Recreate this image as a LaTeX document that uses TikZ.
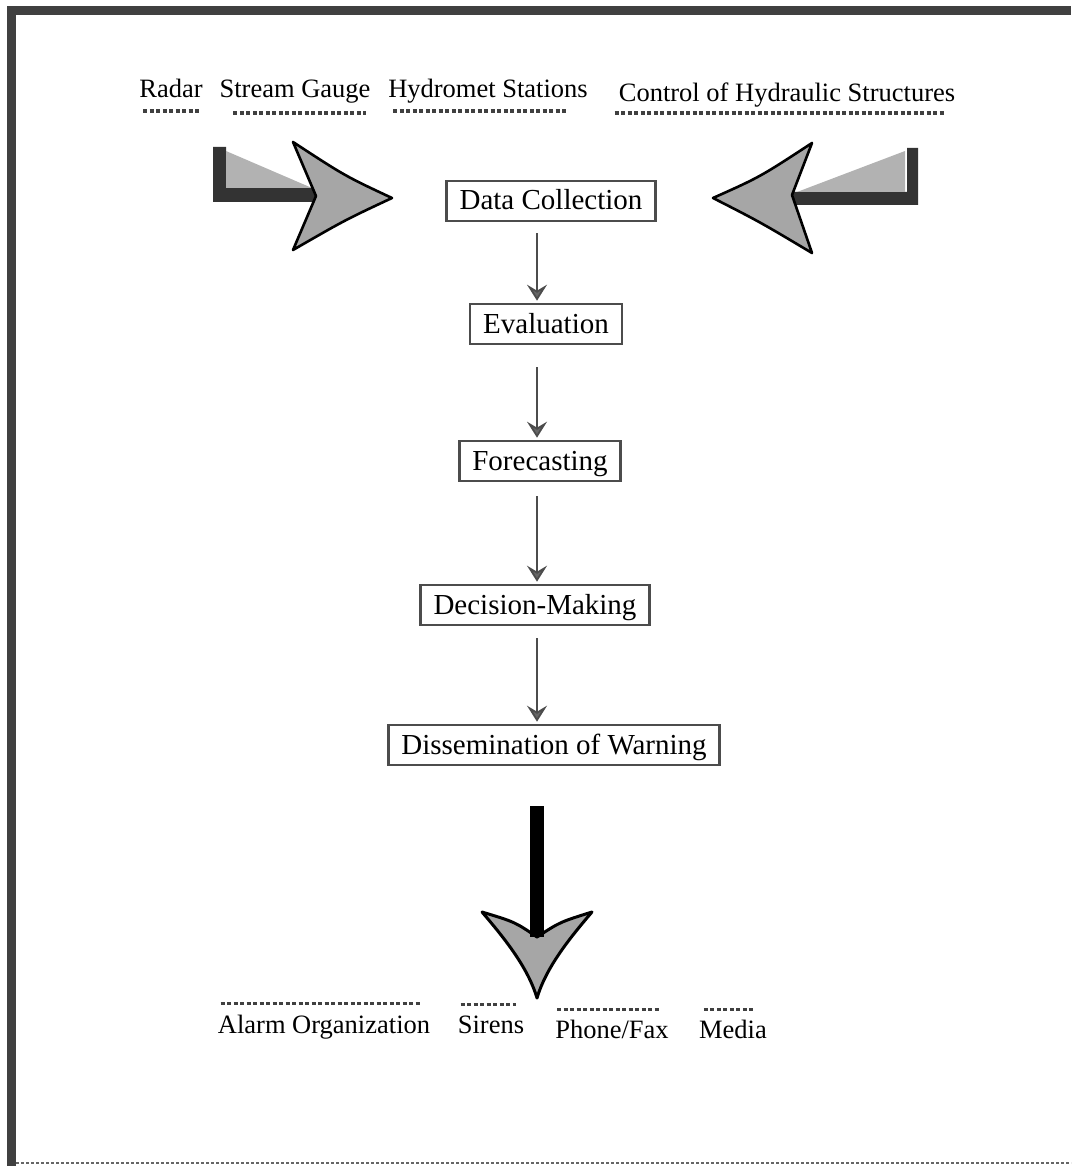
\documentclass[tikz,border=0pt]{standalone}
\usepackage{fontspec}
\setmainfont{Liberation Serif}
\usetikzlibrary{arrows.meta}

\tikzset{
  stage/.style={draw=black!70, line width=2.6pt, inner xsep=13pt, inner ysep=7pt,
    text height=22pt, text depth=4pt, font=\fontsize{29}{34}\selectfont},
  lbl/.style={inner sep=0pt, anchor=base, font=\fontsize{26.5}{30}\selectfont},
  uline/.style={draw=black!75, line width=3.2pt, dash pattern=on 4pt off 2.5pt},
  flow/.style={draw=black!70, line width=1.8pt,
    -{Stealth[length=16pt,width=20pt,inset=6pt,fill=black!60]}},
  headfill/.style={fill=black!35, draw=black, line width=2.6pt, line join=round},
  shaftdark/.style={fill=black!80},
  shaftlight/.style={fill=black!30},
}

\begin{document}
\begin{tikzpicture}[x=1pt, y=-1pt]
\useasboundingbox (0,0) rectangle (1071,1166);

% page frame
\draw[black!75, line width=9pt] (11.5,1166) -- (11.5,10.5) -- (1071,10.5);
\draw[black!60, line width=2.5pt, dash pattern=on 3pt off 2pt] (16,1163) -- (1071,1163);

% data sources
\node[lbl] (radar) at (171,98) {Radar};
\node[lbl] (gauge) at (295,98) {Stream Gauge};
\node[lbl] (hydro) at (488,98) {Hydromet Stations};
\node[lbl] (ctrl)  at (787,102) {Control of Hydraulic Structures};
\draw[uline] ([xshift=4pt,yshift=-13pt]radar.base west) -- ([xshift=-4pt,yshift=-13pt]radar.base east);
\draw[uline] ([xshift=14pt,yshift=-15pt]gauge.base west) -- ([xshift=-5pt,yshift=-15pt]gauge.base east);
\draw[uline] ([xshift=5pt,yshift=-13pt]hydro.base west) -- ([xshift=-20pt,yshift=-13pt]hydro.base east);
\draw[uline] ([xshift=-4pt,yshift=-11pt]ctrl.base west) -- ([xshift=-10pt,yshift=-11pt]ctrl.base east);

% process stages
\node[stage] (dc)  at (551,201) {Data Collection};
\node[stage] (ev)  at (546,324) {Evaluation};
\node[stage] (fc)  at (540,461) {Forecasting};
\node[stage] (dm)  at (535,605) {Decision-Making};
\node[stage] (dw)  at (554,745) {Dissemination of Warning};

\coordinate (ax) at (537,0);
\draw[flow, shorten <=11pt, shorten >=2pt] (dc.south -| ax) -- (ev.north -| ax);
\draw[flow, shorten <=22pt, shorten >=2pt] (ev.south -| ax) -- (fc.north -| ax);
\draw[flow, shorten <=14pt, shorten >=2pt] (fc.south -| ax) -- (dm.north -| ax);
\draw[flow, shorten <=12pt, shorten >=2pt] (dm.south -| ax) -- (dw.north -| ax);

% incoming arrow, left
\fill[shaftdark] (213,147) -- (226,147) -- (226,188) -- (316,188) -- (316,202) -- (213,202) -- cycle;
\fill[shaftlight] (226,151) -- (312,188) -- (226,188) -- cycle;
\filldraw[headfill] (293,142) .. controls (345,176) .. (392,198)
  .. controls (345,220) .. (293,250) -- (316,196) -- cycle;

% incoming arrow, right
\fill[shaftdark] (907,148) -- (918,148) -- (918,205) -- (790,205) -- (790,192) -- (907,192) -- cycle;
\fill[shaftlight] (905,151) -- (905,192) -- (797,192) -- cycle;
\filldraw[headfill] (812,143) .. controls (760,177) .. (713,198)
  .. controls (760,222) .. (812,253) -- (792,195) -- cycle;

% outgoing arrow
\coordinate (bartop) at (537,806);
\coordinate (notch) at (537,937);
\filldraw[headfill, line width=3pt] (482,912) .. controls (515,922) .. (notch)
  .. controls (560,922) .. (592,912)
  .. controls (568,940) and (546,968) .. (537,998)
  .. controls (528,968) and (506,940) .. (482,912) -- cycle;
\fill[black] ([xshift=-7pt]bartop) rectangle ([xshift=7pt]notch);

% warning channels
\node[lbl] (alarm) at (324,1033) {Alarm Organization};
\node[lbl] (sir)   at (491,1033) {Sirens};
\node[lbl] (phone) at (612,1038) {Phone/Fax};
\node[lbl] (media) at (733,1038) {Media};
\draw[uline] ([xshift=3pt,yshift=11pt]alarm.north west) -- ([xshift=-9pt,yshift=11pt]alarm.north east);
\draw[uline] ([xshift=3pt,yshift=11pt]sir.north west) -- ([xshift=-8pt,yshift=11pt]sir.north east);
\draw[uline] ([xshift=2pt,yshift=10pt]phone.north west) -- ([xshift=-10pt,yshift=10pt]phone.north east);
\draw[uline] ([xshift=5pt,yshift=10pt]media.north west) -- ([xshift=-12pt,yshift=10pt]media.north east);
\end{tikzpicture}
\end{document}
